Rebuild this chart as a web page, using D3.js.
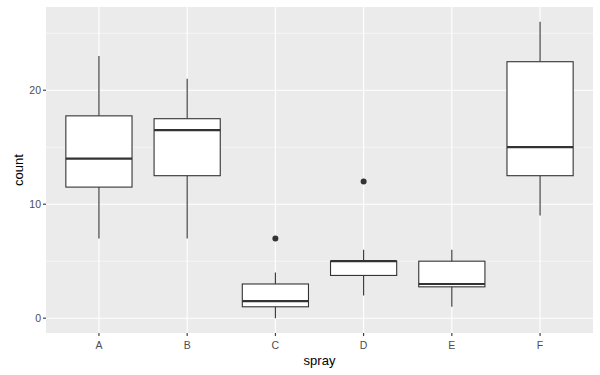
<!DOCTYPE html>
<html><head><meta charset="utf-8">
<script src="https://cdn.jsdelivr.net/npm/d3@7"></script>
<style>body{margin:0;background:#fff}</style>
</head><body>
<svg id="chart" width="600" height="375"></svg>
<script>
const categories = ["A","B","C","D","E","F"];
const lowerWhisker = [7, 7, 0, 2, 1, 9];
const q1 = [11.5, 12.5, 1, 3.75, 2.75, 12.5];
const median = [14, 16.5, 1.5, 5, 3, 15];
const q3 = [17.75, 17.5, 3, 5, 5, 22.5];
const upperWhisker = [23, 21, 4, 6, 6, 26];
const outliers = [[], [], [7], [12], [], []];
const yTicks = [0, 10, 20];
const yMinor = [5, 15, 25];

const svg = d3.select("#chart");
const L = 46, R = 593, T = 7, B = 333;
const step = (R - L) / (categories.length - 1 + 1.2);
const x = d3.scalePoint().domain(categories).range([L + 0.6 * step, R - 0.6 * step]);
const y = d3.scaleLinear().domain([-1.3, 27.3]).range([B, T]);

svg.append("rect").attr("x", L).attr("y", T).attr("width", R - L).attr("height", B - T).attr("fill", "#EBEBEB");
const g = svg.append("g");
yMinor.forEach(v => g.append("line").attr("x1", L).attr("x2", R).attr("y1", y(v)).attr("y2", y(v)).attr("stroke", "#fff").attr("stroke-width", 0.55));
yTicks.forEach(v => g.append("line").attr("x1", L).attr("x2", R).attr("y1", y(v)).attr("y2", y(v)).attr("stroke", "#fff").attr("stroke-width", 1.1));
categories.forEach(c => g.append("line").attr("x1", x(c)).attr("x2", x(c)).attr("y1", T).attr("y2", B).attr("stroke", "#fff").attr("stroke-width", 1.1));

const bw = 0.75 * step;
const data = categories.map((c, i) => ({c, lo: lowerWhisker[i], q1: q1[i], med: median[i], q3: q3[i], hi: upperWhisker[i], out: outliers[i]}));
const bx = svg.append("g");
data.forEach(d => {
  const cx = x(d.c);
  bx.append("line").attr("x1", cx).attr("x2", cx).attr("y1", y(d.q3)).attr("y2", y(d.hi)).attr("stroke", "#333").attr("stroke-width", 1.1);
  bx.append("line").attr("x1", cx).attr("x2", cx).attr("y1", y(d.q1)).attr("y2", y(d.lo)).attr("stroke", "#333").attr("stroke-width", 1.1);
  bx.append("rect").attr("x", cx - bw / 2).attr("width", bw).attr("y", y(d.q3)).attr("height", y(d.q1) - y(d.q3)).attr("fill", "#fff").attr("stroke", "#333").attr("stroke-width", 1.1);
  bx.append("line").attr("x1", cx - bw / 2).attr("x2", cx + bw / 2).attr("y1", y(d.med)).attr("y2", y(d.med)).attr("stroke", "#333").attr("stroke-width", 2.2);
  d.out.forEach(o => bx.append("circle").attr("cx", cx).attr("cy", y(o)).attr("r", 3).attr("fill", "#333"));
});

// axes
const ax = svg.append("g").attr("font-family", "Liberation Sans, Arial, sans-serif");
yTicks.forEach(v => {
  ax.append("line").attr("x1", L - 3).attr("x2", L).attr("y1", y(v)).attr("y2", y(v)).attr("stroke", "#333").attr("stroke-width", 1.1);
  ax.append("text").attr("x", L - 5).attr("y", y(v)).attr("dy", "0.36em").attr("text-anchor", "end").attr("font-size", 10.5).attr("fill", "#4D4D4D").text(v);
});
categories.forEach(c => {
  ax.append("line").attr("x1", x(c)).attr("x2", x(c)).attr("y1", B).attr("y2", B + 3).attr("stroke", "#333").attr("stroke-width", 1.1);
  ax.append("text").attr("x", x(c)).attr("y", 348.5).attr("text-anchor", "middle").attr("font-size", 10.5).attr("fill", "#4D4D4D").text(c);
});
ax.append("text").attr("x", (L + R) / 2).attr("y", 365).attr("text-anchor", "middle").attr("font-size", 13).attr("fill", "#000").text("spray");
ax.append("text").attr("transform", `translate(23,${(T + B) / 2}) rotate(-90)`).attr("text-anchor", "middle").attr("font-size", 13).attr("fill", "#000").text("count");
</script>
</body></html>
